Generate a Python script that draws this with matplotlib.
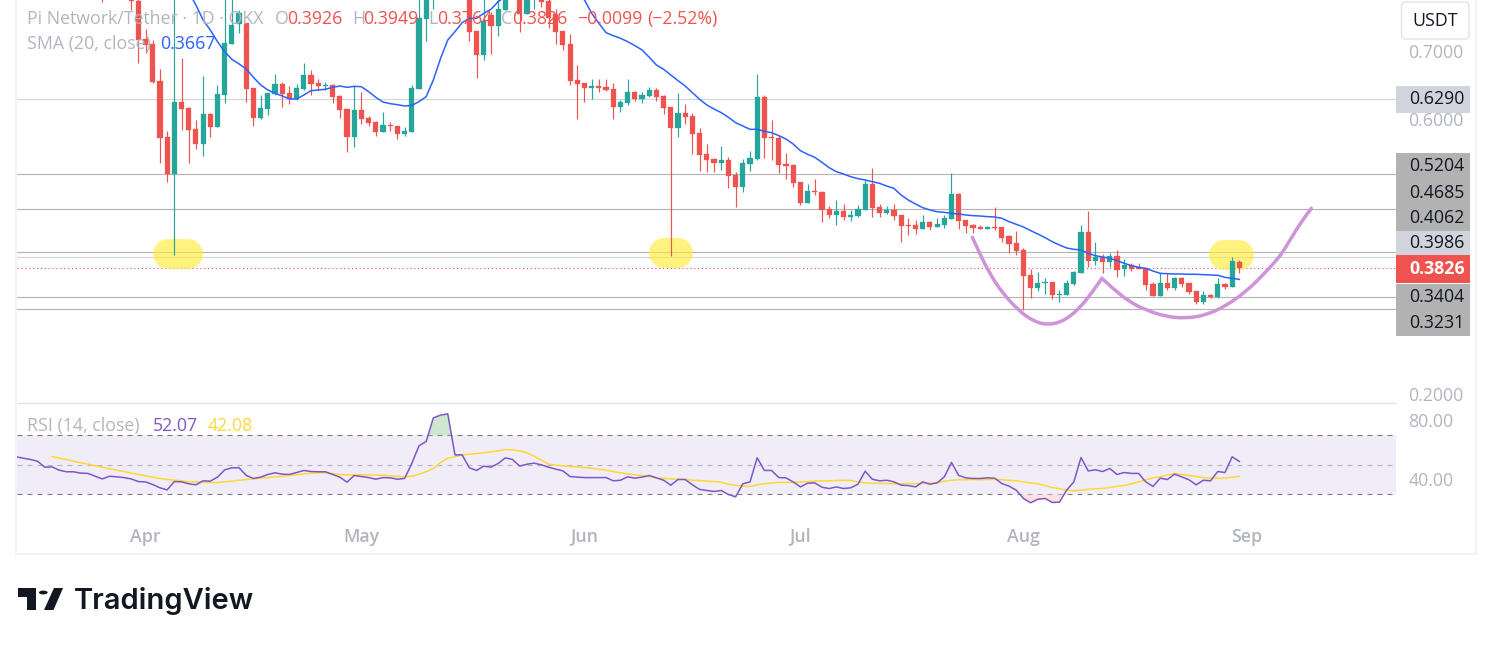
#!/usr/bin/env python3
"""Pi Network/Tether daily candles with SMA, RSI and drawn levels"""

import pandas as pd
import matplotlib
matplotlib.use("Agg")
import matplotlib.pyplot as plt
from matplotlib.path import Path
from matplotlib.patches import Rectangle, FancyBboxPatch, Polygon, Circle, PathPatch

W, H = 1491, 645

# last candle is 31 Aug, x axis counts days from the 5 Apr wick
last_date = pd.Timestamp("2025-08-31")
base_date = pd.Timestamp("2025-04-05")

opens = [
    .80, .78, .79, .82, .81, .7722, .7164, .7096, .6557, .5741,
    .5202, .6251, .6169, .5858, .5644, .6076, .5887, .6353, .7096, .7387,
    .7397, .6455, .6018, .6149, .6368, .6513, .6382, .6295, .6440, .6644,
    .6528, .6484, .6499, .6339, .6149, .5741, .6134, .6018, .5960, .5814,
    .5916, .5901, .5785, .5814, .6440, .7460, .79, .81, .82, .84,
    .83, .81, .7285, .6936, .7518, .7358, .7591, .78, .80, .7533,
    .78, .79, .7722, .7533, .7285, .7096, .6572, .6528, .6455, .6484,
    .6470, .6440, .6178, .6237, .6397, .6295, .6339, .6426, .6339, .6178,
    .5872, .6091, .6047, .5799, .5494, .5421, .5362, .5406, .5188, .5013,
    .5348, .5421, .6324, .5741, .5727, .5348, .5333, .5086, .4780, .4955,
    .4940, .4692, .4605, .4663, .4576, .4590, .4678, .5056, .4721, .4634,
    .4678, .4605, .4459, .4459, .4401, .4503, .4430, .4459, .4546, .4911,
    .4532, .4459, .4430, .4401, .4430, .4430, .4299, .4197, .4095, .3731,
    .3541, .3614, .3629, .3439, .3439, .3600, .3760, .4357, .3935, .3993,
    .3920, .4007, .3818, .3876, .3847, .3833, .3600, .3425, .3614, .3541,
    .3687, .3614, .3498, .3337, .3439, .3410, .3600, .3556, .3926,
]
highs = [
    .81, .80, .83, .85, .84, .78, .7310, .7154, .6732, .5833,
    .80, .6887, .6183, .5989, .6630, .6086, .6499, .79, .80, .7591,
    .7397, .6455, .6353, .6382, .6659, .6542, .6484, .6513, .6819, .6717,
    .6586, .6542, .6513, .6353, .6164, .6484, .6397, .6047, .5974, .6105,
    .5960, .5901, .5887, .6499, .79, .82, .83, .84, .85, .87,
    .85, .83, .7285, .78, .7567, .78, .80, .81, .82, .80,
    .81, .80, .78, .76, .7285, .7242, .6790, .6528, .6586, .6586,
    .6586, .6528, .6280, .6586, .6411, .6397, .6470, .6455, .6353, .6178,
    .6382, .6222, .6091, .5872, .5639, .5430, .5610, .5450, .5231, .5421,
    .5537, .6659, .6353, .5989, .5770, .5508, .5348, .5086, .5056, .5129,
    .4955, .4736, .4823, .4765, .4678, .4750, .5115, .5290, .4765, .4736,
    .4765, .4605, .4561, .4532, .4605, .4517, .4561, .4605, .5217, .4925,
    .4532, .4474, .4459, .4445, .4721, .4430, .4313, .4372, .4124, .3818,
    .3774, .3687, .3629, .3512, .3658, .3789, .4459, .4663, .4211, .4037,
    .4051, .4095, .3964, .3906, .3906, .3833, .3629, .3760, .3760, .3702,
    .3702, .3614, .3498, .3498, .3454, .3687, .3614, .3993, .3949,
]
lows = [
    .7713, .776, .78, .80, .7591, .6814, .6960, .6523, .5358, .5090,
    .4022, .5843, .5367, .5571, .5469, .5746, .5887, .6241, .7096, .7261,
    .6256, .5901, .6003, .6062, .6353, .6178, .6222, .6280, .6426, .6353,
    .6426, .6426, .6237, .6018, .5523, .5596, .5931, .5901, .5756, .5814,
    .5829, .5712, .5756, .5814, .6440, .7140, .7606, .79, .80, .82,
    .80, .7140, .6601, .6863, .6950, .7213, .7591, .78, .7271, .7533,
    .7606, .7635, .7329, .7096, .7009, .6499, .6003, .6251, .6295, .6397,
    .6411, .6003, .6105, .6207, .6266, .6237, .6324, .6266, .6076, .4008,
    .5741, .5931, .5494, .5246, .5231, .5231, .5260, .4998, .4721, .4940,
    .5246, .5406, .5435, .5406, .5217, .5129, .5013, .4750, .4780, .4896,
    .4503, .4561, .4459, .4532, .4518, .4576, .4678, .4576, .4576, .4619,
    .4532, .4211, .4313, .4328, .4401, .4386, .4430, .4415, .4546, .4401,
    .4343, .4343, .4401, .4401, .4386, .4211, .4051, .4022, .3221, .3396,
    .3498, .3454, .3381, .3337, .3439, .3585, .3760, .3847, .3876, .3760,
    .3847, .3702, .3716, .3789, .3818, .3512, .3425, .3425, .3512, .3512,
    .3556, .3454, .3308, .3308, .3396, .3396, .3527, .3556, .3764,
]
closes = [
    .78, .79, .82, .81, .7722, .7154, .7081, .6538, .5731, .5202,
    .6251, .6154, .5843, .5644, .6076, .5887, .6368, .7111, .7373, .7543,
    .6440, .6018, .6164, .6382, .6513, .6368, .6295, .6455, .6644, .6513,
    .6484, .6499, .6324, .6134, .5741, .6134, .6003, .5945, .5814, .5916,
    .5901, .5785, .5829, .6455, .7475, .78, .81, .82, .84, .83,
    .81, .7271, .6936, .7431, .7358, .7606, .78, .80, .7533, .78,
    .79, .7708, .7475, .7271, .7081, .6557, .6513, .6455, .6484, .6455,
    .6426, .6178, .6251, .6397, .6295, .6353, .6426, .6324, .6164, .5872,
    .6091, .6033, .5785, .5479, .5406, .5362, .5406, .5173, .5013, .5362,
    .5435, .6324, .5727, .5727, .5333, .5319, .5071, .4780, .4955, .4940,
    .4678, .4605, .4663, .4576, .4605, .4692, .5056, .4707, .4634, .4678,
    .4590, .4445, .4445, .4401, .4503, .4430, .4474, .4561, .4911, .4517,
    .4445, .4415, .4401, .4430, .4415, .4270, .4182, .4080, .3716, .3541,
    .3614, .3629, .3439, .3454, .3614, .3774, .4357, .3935, .3993, .3920,
    .4007, .3804, .3876, .3818, .3818, .3585, .3425, .3614, .3541, .3687,
    .3600, .3483, .3337, .3439, .3410, .3600, .3556, .3935, .3826,
]

# 20 day SMA, first value belongs to 7 Apr
sma_values = [
    .7858, .7664, .7446, .7300, .7130, .6984, .6873, .6805, .6732, .6610,
    .6499, .6426, .6377, .6339, .6295, .6295, .6353, .6416, .6426, .6436,
    .6465, .6484, .6465, .6479, .6474, .6402, .6319, .6251, .6227, .6212,
    .6193, .6202, .6256, .6329, .6572, .6887, .7154, .7276, .7407, .7470,
    .7470, .7543, .7601, .7713, .7786, .7858, .795, .800, .805, .81,
    .81, .805, .80, .792, .782, .7737, .7543, .7397, .7261, .7217,
    .7179, .7130, .7072, .7009, .6902, .6790, .6727, .6644, .6562, .6484,
    .6387, .6290, .6207, .6149, .6096, .6028, .5950, .5901, .5853, .5853,
    .5824, .5804, .5761, .5712, .5639, .5542, .5489, .5445, .5372, .5294,
    .5236, .5202, .5163, .5134, .5115, .5090, .5066, .5027, .4993, .4896,
    .4823, .4765, .4712, .4678, .4653, .4644, .4629, .4619, .4605, .4595,
    .4590, .4581, .4576, .4556, .4508, .4469, .4430, .4377, .4328, .4275,
    .4216, .4168, .4124, .4105, .4095, .4046, .4012, .3993, .3974, .3940,
    .3901, .3867, .3843, .3828, .3789, .3755, .3750, .3745, .3745, .3741,
    .3741, .3736, .3731, .3726, .3697, .3682, .3667,
]

rsi_values = [
    55.2, 54.3, 53.4, 52.2, 48.2, 48.4, 46.2, 45.1, 45.1, 44.2,
    44.0, 42.1, 40.3, 42.1, 41.7, 41.2, 40.3, 38.5, 38.3, 36.5,
    34.3, 32.9, 38.5, 38.3, 37.0, 36.3, 39.0, 38.8, 41.5, 46.4,
    47.8, 47.8, 42.6, 40.6, 41.5, 43.3, 44.4, 43.5, 43.3, 44.6,
    46.0, 45.3, 45.1, 45.1, 43.3, 41.5, 38.1, 42.6, 41.9, 41.2,
    40.1, 41.2, 41.0, 40.1, 40.6, 50.7, 62.6, 65.5, 81.5, 83.3,
    84.2, 56.5, 56.5, 47.8, 46.0, 48.9, 48.2, 50.7, 54.5, 53.4,
    48.9, 50.2, 50.9, 49.8, 48.2, 46.9, 45.7, 41.9, 41.5, 41.2,
    41.2, 41.2, 41.2, 39.0, 39.4, 41.7, 40.8, 41.5, 42.6, 41.0,
    39.4, 36.1, 39.9, 39.9, 36.3, 33.2, 32.5, 31.8, 32.5, 29.8,
    28.2, 37.0, 38.3, 54.5, 46.0, 46.0, 41.2, 41.0, 38.3, 34.9,
    37.4, 37.6, 34.7, 33.8, 34.9, 33.8, 34.3, 36.7, 45.5, 40.1,
    39.0, 39.4, 38.3, 36.1, 35.8, 34.9, 38.3, 36.7, 37.6, 41.7,
    51.4, 42.6, 41.0, 40.6, 40.6, 41.0, 40.8, 37.2, 35.4, 32.7,
    27.1, 24.2, 26.6, 27.1, 24.4, 24.6, 32.7, 38.3, 54.7, 45.7,
    46.4, 45.3, 47.3, 43.3, 44.6, 44.0, 44.0, 38.3, 35.2, 40.8,
    39.9, 43.5, 41.7, 39.7, 36.3, 39.4, 39.0, 45.3, 44.6, 55.2,
    52.07,
]
rsi_ma = [
    55.4, 54.3, 53.4, 52.2, 51.1, 50.2, 49.1, 48.2, 47.1, 46.2,
    45.3, 44.2, 43.3, 42.4, 41.5, 40.6, 39.9, 39.4, 39.0, 38.3,
    38.3, 38.1, 37.9, 37.9, 38.3, 38.8, 39.4, 39.9, 40.3, 40.8,
    41.2, 41.7, 42.1, 42.6, 43.0, 43.7, 44.2, 44.4, 44.4, 44.0,
    43.3, 43.0, 43.0, 43.0, 43.0, 42.8, 42.8, 42.4, 42.1,
    41.7, 42.1, 43.5, 45.1, 47.3, 51.4, 54.3, 55.2, 56.5, 57.0,
    57.4, 57.9, 58.5, 59.2, 60.1, 59.9, 59.2, 57.9, 55.6, 52.9,
    50.4, 49.6, 49.1, 48.7, 48.4, 48.0, 47.5, 46.9, 46.2, 45.3,
    44.4, 43.7, 43.0, 42.6, 41.9, 41.0, 40.6, 40.3, 40.1, 39.9,
    39.4, 39.2, 38.8, 38.5, 38.1, 36.7, 36.1, 35.4, 35.2, 36.3,
    37.0, 37.6, 37.9, 37.9, 37.9, 38.3, 38.5, 38.8, 39.0, 39.0,
    39.2, 39.4, 39.2, 38.3, 37.6, 37.4, 37.2, 37.2, 37.0, 37.0,
    37.2, 37.0, 37.2, 37.4, 37.9, 38.8, 39.4, 39.7, 39.7, 39.9,
    39.7, 39.9, 39.9, 39.7, 39.4, 39.0, 38.3, 37.6, 37.0, 35.8,
    34.5, 33.6, 32.7, 32.2, 32.7, 33.2, 33.6, 33.8, 34.5, 35.4,
    35.8, 37.0, 38.3, 39.7, 41.0, 41.7, 43.0, 43.9, 43.3, 42.6,
    41.9, 41.2, 40.8, 40.8, 40.8, 41.5, 42.08,
]

# horizontal levels drawn on the chart
light_levels = [0.6290, 0.3986]
dark_levels = [0.5204, 0.4685, 0.4062, 0.3404, 0.3231]
last_price = 0.3826

price_ticks = [0.2, 0.6, 0.7]
rsi_ticks = [40, 80]
month_names = ["Apr", "May", "Jun", "Jul", "Aug", "Sep"]
month_dates = ["2025-04-01", "2025-05-01", "2025-06-01", "2025-07-01", "2025-08-01", "2025-09-01"]

# hand drawn marks (days from 5 Apr, price)
brush_days = [[-0.9, 1.9], [68.1, 70.0], [145.8, 148.0]]
brush_prices = [0.4037, 0.4050, 0.4022]
cup1_days = [110.9, 111.9, 113.3, 115.1, 117.5, 119.3, 121.2, 123.5, 125.8, 127.6, 128.9]
cup1_prices = [.4279, .4046, .3755, .3464, .3197, .3065, .3002, .3051, .3245, .3488, .3682]
cup2_days = [128.9, 130.4, 132.7, 135.0, 137.8, 140.6, 143.4, 146.1, 148.9, 151.3, 153.6, 154.5, 156.3, 158.0]
cup2_prices = [.3682, .3536, .3342, .3221, .3124, .3099, .3148, .3279, .3488, .3731, .3998, .4144, .4459, .4702]

GREEN = "#26a69a"
RED = "#ef5350"
GREY = "#b2b5be"
FONT = "Open Sans"
TEXT_SIZE = 12.8

plt.rcParams["font.family"] = [FONT, "DejaVu Sans"]


def days_back(values):
    """x positions for a series that ends on the last candle"""
    last = (last_date - base_date).days
    return list(range(last - len(values) + 1, last + 1))


def fig_box(x0, y0, x1, y1):
    """figure fractions from pixel corners, y measured from the top"""
    return [x0 / W, 1 - y1 / H, (x1 - x0) / W, (y1 - y0) / H]


def label(x, y, txt, color="#131722", size=TEXT_SIZE, ha="left", **kw):
    fig.text(x / W, 1 - y / H, txt, color=color, fontsize=size, ha=ha, va="center", zorder=20, **kw)


def box(x0, y0, x1, y1, color):
    fig.add_artist(Rectangle((x0 / W, 1 - y1 / H), (x1 - x0) / W, (y1 - y0) / H,
                             transform=fig.transFigure, facecolor=color, edgecolor="none", zorder=15))


def brush_path(days, prices):
    """smooth stroke through the midpoints of the read points"""
    pts = list(zip(days, prices))
    verts = [pts[0]]
    codes = [Path.MOVETO]
    for i in range(1, len(pts) - 1):
        mid = ((pts[i][0] + pts[i + 1][0]) / 2, (pts[i][1] + pts[i + 1][1]) / 2)
        verts += [pts[i], mid]
        codes += [Path.CURVE3, Path.CURVE3]
    verts.append(pts[-1])
    codes.append(Path.LINETO)
    return Path(verts, codes)


fig = plt.figure(figsize=(W / 100, H / 100), dpi=100, facecolor="white")

# card outline
for rect in [(15, 0, 17, 555), (1475, 0, 1477, 555), (15, 553, 1477, 555)]:
    box(*rect, "#f0f3fa")

ax = fig.add_axes(fig_box(17, 0, 1396, 403))
ax_rsi = fig.add_axes(fig_box(17, 403, 1396, 513), sharex=ax)

# candles
x = days_back(opens)
up_color = [GREEN if c >= o else RED for o, c in zip(opens, closes)]
ax.vlines(x, lows, highs, colors=up_color, linewidth=0.85, zorder=3)
ax.bar(x, [abs(c - o) for o, c in zip(opens, closes)], bottom=[min(o, c) for o, c in zip(opens, closes)],
       width=0.72, color=up_color, edgecolor=up_color, linewidth=0.2, zorder=4)

# levels
for level in light_levels:
    ax.axhline(level, color="#d1d4dc", linewidth=0.8, zorder=1)
for level in dark_levels:
    ax.axhline(level, color="#b2b2b2", linewidth=0.8, zorder=1)
ax.axhline(last_price, color=RED, linewidth=0.8, linestyle=(0, (1, 2.5)), zorder=2)

ax.plot(days_back(sma_values), sma_values, color="#2962ff", linewidth=1.1, zorder=5)

# drawings, the yellow brush sits under the candles
for days, price in zip(brush_days, brush_prices):
    ax.plot(days, [price, price], color="#ffeb3b", alpha=0.65, linewidth=21.5,
            solid_capstyle="round", zorder=2.5)
for days, prices in [(cup1_days, cup1_prices), (cup2_days, cup2_prices)]:
    ax.add_patch(PathPatch(brush_path(days, prices), facecolor="none", edgecolor="#ce93d8",
                           linewidth=2.5, capstyle="round", zorder=6))

ax.set_xlim(-21.86, 169.77)
ax.set_ylim(0.1866, 0.7737)
ax.yaxis.tick_right()
ax.set_yticks(price_ticks, [f"{t:.4f}" for t in price_ticks])
ax.tick_params(axis="y", length=0, pad=9, labelsize=TEXT_SIZE, labelcolor=GREY)
ax.tick_params(axis="x", length=0, labelbottom=False)

# RSI pane
rsi_x = days_back(rsi_values)
ax_rsi.axhspan(30, 70, color="#7e57c2", alpha=0.1, linewidth=0, zorder=1)
ax_rsi.axhline(70, color="#787b86", linewidth=0.8, linestyle=(0, (4.5, 4.5)), zorder=2)
ax_rsi.axhline(50, color=GREY, linewidth=0.8, linestyle=(0, (4.5, 4.5)), zorder=2)
ax_rsi.axhline(30, color="#787b86", linewidth=0.8, linestyle=(0, (4.5, 4.5)), zorder=2)
ax_rsi.fill_between(rsi_x, rsi_values, 70, where=[v > 70 for v in rsi_values], interpolate=True,
                    color="#a5d6a7", alpha=0.55, linewidth=0, zorder=2)
ax_rsi.fill_between(rsi_x, rsi_values, 30, where=[v < 30 for v in rsi_values], interpolate=True,
                    color="#ffcdd2", alpha=0.6, linewidth=0, zorder=2)
ax_rsi.plot(days_back(rsi_ma), rsi_ma, color="#fdd835", linewidth=1.1, zorder=3)
ax_rsi.plot(rsi_x, rsi_values, color="#7e57c2", linewidth=1.1, zorder=4)
ax_rsi.set_ylim(17.3, 91.5)
ax_rsi.yaxis.tick_right()
ax_rsi.set_yticks(rsi_ticks, [f"{t:.2f}" for t in rsi_ticks])
ax_rsi.tick_params(axis="y", length=0, pad=9, labelsize=TEXT_SIZE, labelcolor=GREY)

month_x = [(pd.Timestamp(d) - base_date).days for d in month_dates]
ax_rsi.set_xticks(month_x, month_names)
ax_rsi.tick_params(axis="x", length=0, pad=10.5, labelsize=TEXT_SIZE, labelcolor=GREY)
for tick in ax_rsi.get_xticklabels():
    tick.set_fontweight("semibold")

for a in (ax, ax_rsi):
    a.set_facecolor("none")
    for side in a.spines.values():
        side.set_visible(False)
ax_rsi.spines["top"].set_visible(True)
ax_rsi.spines["top"].set_color("#e0e3eb")
ax_rsi.spines["top"].set_linewidth(1)

# legend lines, same text colours as the chart header
label(27, 19, "Pi Network/Tether · 1D · OKX", GREY)
for px, txt, color in [(275, "O", GREY), (287, "0.3926", RED), (352, "H", GREY), (363, "0.3949", RED),
                       (428, "L", GREY), (437, "0.3764", RED), (501, "C", GREY), (512, "0.3826", RED),
                       (577, "−0.0099", RED), (647, "(−2.52%)", RED)]:
    label(px, 19, txt, color)
label(27, 44, "SMA (20, close)", GREY)
label(160, 44, "0.3667", "#2962ff")
label(27, 426, "RSI (14, close)", GREY)
label(153, 426, "52.07", "#7e57c2")
label(208, 426, "42.08", "#fdd835")

# price scale tags, stacked the way the scale stacks them
box(1396, 86, 1470, 113, "#d1d4dc")
box(1396, 153, 1470, 231, "#b2b2b2")
box(1396, 231, 1470, 255, "#d1d4dc")
box(1396, 255, 1470, 283, RED)
box(1396, 284, 1470, 336, "#b2b2b2")
for py, txt in [(99.5, "0.6290"), (166, "0.5204"), (193, "0.4685"), (218, "0.4062"),
                (243.5, "0.3986"), (297, "0.3404"), (323, "0.3231")]:
    label(1409, py, txt)
label(1409, 268.5, "0.3826", "white", weight="bold")

fig.add_artist(FancyBboxPatch((1401.5 / W, 1 - 39 / H), 67.5 / W, 37 / H, transform=fig.transFigure,
                              boxstyle=f"round,pad=0,rounding_size={4 / W}", mutation_aspect=W / H,
                              facecolor="white", edgecolor="#e0e3eb", linewidth=1, zorder=16))
label(1435, 20.5, "USDT", ha="center")

# TradingView mark
def to_fig(pts):
    return [(px / W, 1 - py / H) for px, py in pts]


mark = "#131722"
fig.add_artist(Polygon(to_fig([(18, 588), (36, 588), (36, 610), (27, 610), (27, 597), (18, 597)]),
                       transform=fig.transFigure, facecolor=mark, edgecolor="none"))
fig.add_artist(Polygon(to_fig([(54, 588), (63, 588), (53.5, 610), (44, 610)]),
                       transform=fig.transFigure, facecolor=mark, edgecolor="none"))
fig.add_artist(Circle((43.3 / W, 1 - 592.5 / H), 4.4 / W, transform=fig.transFigure,
                      facecolor=mark, edgecolor="none"))
label(74, 601, "TradingView", mark, size=21, family="Inter", weight="semibold")

fig.savefig("out.png", dpi=100)
